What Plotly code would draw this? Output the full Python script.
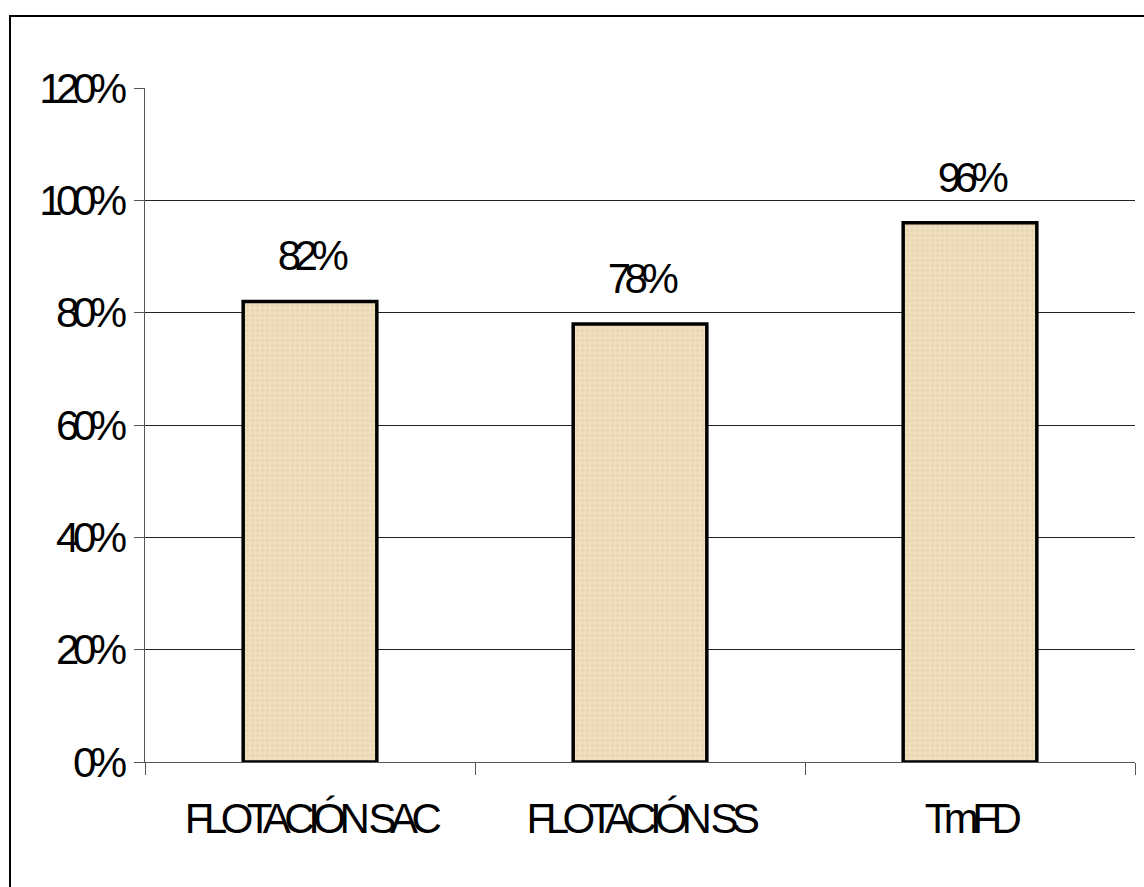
import plotly.graph_objects as go

# Recovery rate by process
categories = ["FLOTACIÓN SAC", "FLOTACIÓN SS", "TmFD"]
values = [0.82, 0.78, 0.96]
y_ticks = [0, 0.2, 0.4, 0.6, 0.8, 1.0, 1.2]
y_tick_labels = ["0%", "20%", "40%", "60%", "80%", "100%", "120%"]

FONT = "Arial, 'Liberation Sans', sans-serif"
BAR_FILL = "#EFDFBE"
BAR_SPECKLE = "#E2CCA4"

fig = go.Figure()
fig.add_trace(go.Bar(
    x=categories,
    y=values,
    marker=dict(
        color=BAR_FILL,
        line=dict(color="#000000", width=3.5),
        pattern=dict(shape=".", fgcolor=BAR_SPECKLE, bgcolor=BAR_FILL,
                     size=5, solidity=0.35, fillmode="overlay"),
    ),
    hoverinfo="skip",
))

# value labels above each bar
for c, v in zip(categories, values):
    fig.add_annotation(x=c, y=v, text=f"{round(v * 100)}%", showarrow=False,
                       yanchor="bottom", yshift=20,
                       font=dict(family=FONT, size=42, color="#000000"))

# outer chart frame
L, R, T, B = 145, 1135, 88, 762
W, H = R - L, B - T
def px(x):
    return (x - L) / W
def py(y):
    return (B - y) / H
fig.add_shape(type="rect", xref="paper", yref="paper",
              x0=px(10), x1=px(1160), y0=py(905), y1=py(16),
              line=dict(color="#000000", width=2), fillcolor="rgba(0,0,0,0)",
              layer="below")

fig.update_layout(
    width=1144, height=887,
    margin=dict(l=L, r=1144 - R, t=T, b=887 - B, autoexpand=False),
    paper_bgcolor="#FFFFFF", plot_bgcolor="#FFFFFF",
    bargap=0.595,
    showlegend=False,
    font=dict(family=FONT, size=42, color="#000000"),
)
fig.update_xaxes(
    automargin=False, tickangle=0,
    showline=True, linecolor="#555555", linewidth=1,
    ticks="outside", ticklen=12, tickcolor="#555555",
    tickson="boundaries",
    showgrid=False,
    tickfont=dict(family=FONT, size=42, color="#000000"),
    ticklabelstandoff=20,
)
fig.update_yaxes(
    automargin=False,
    range=[0, 1.2], tickvals=y_ticks, ticktext=y_tick_labels,
    showline=True, linecolor="#555555", linewidth=1,
    ticks="outside", ticklen=10, tickcolor="#555555",
    showgrid=True, gridcolor="#222222", gridwidth=1,
    zeroline=False,
    tickfont=dict(family=FONT, size=42, color="#000000"),
    ticklabelstandoff=5,
)

# tight, condensed lettering for all chart text
post = ("var s=document.createElement('style');"
        "s.textContent='.xtick text,.ytick text,.annotation-text{letter-spacing:-6.5px}';"
        "document.head.appendChild(s);")
fig.write_html("out.html", post_script=post)
